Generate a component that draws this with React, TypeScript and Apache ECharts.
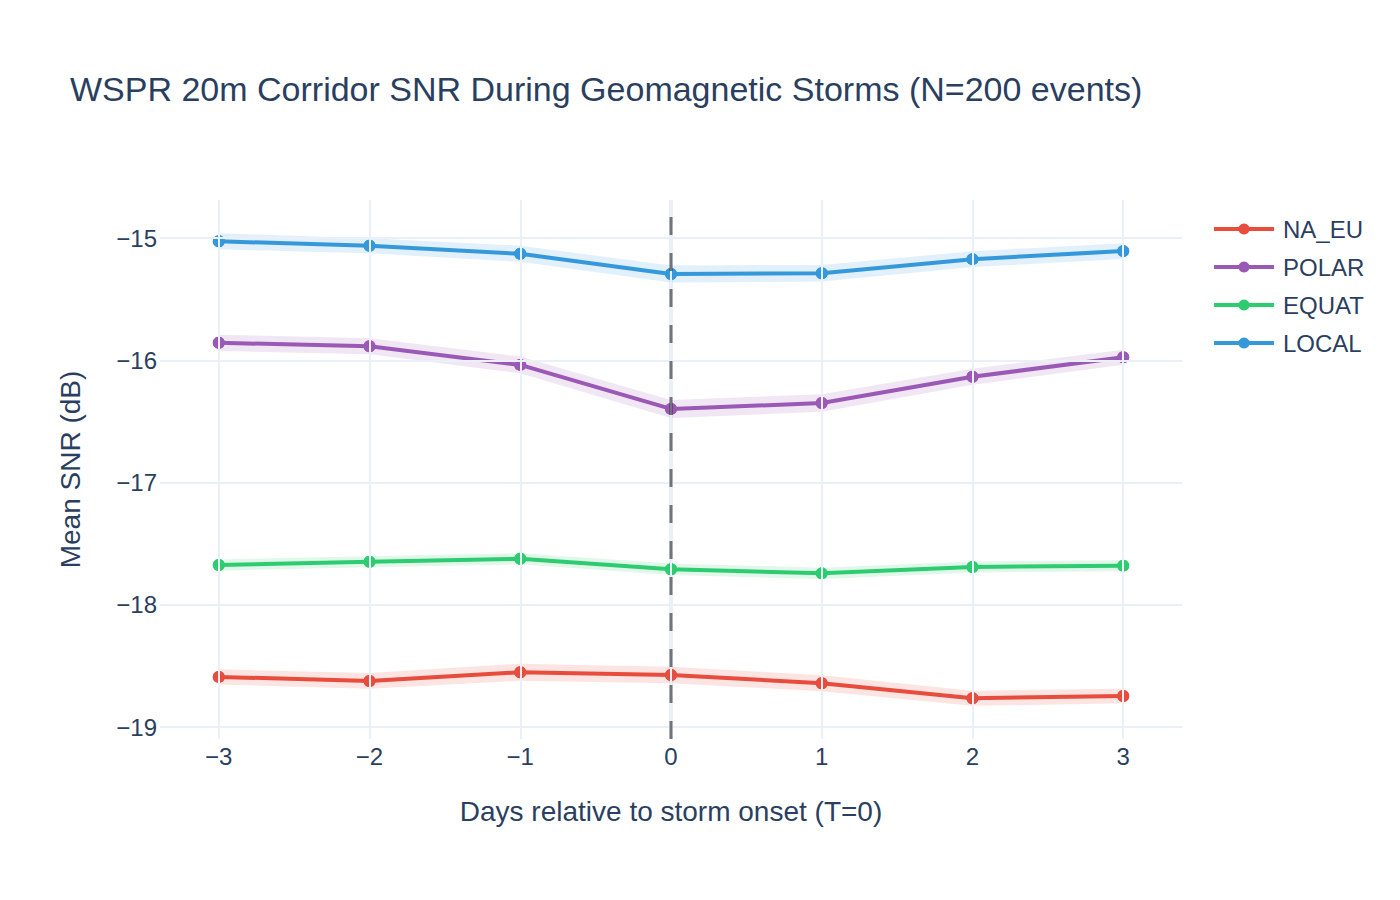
import { useEffect, useRef } from "react";
import * as echarts from "echarts";

// Days relative to storm onset
const days = [-3, -2, -1, 0, 1, 2, 3];

// Mean SNR (dB) per corridor
const naEu = [-18.59, -18.623, -18.552, -18.574, -18.642, -18.765, -18.746];
const polar = [-15.857, -15.885, -16.038, -16.398, -16.35, -16.135, -15.975];
const equat = [-17.675, -17.648, -17.623, -17.71, -17.743, -17.691, -17.68];
const local = [-15.027, -15.063, -15.129, -15.294, -15.288, -15.173, -15.107];

// Half-width of the confidence band (dB)
const naEuCi = [0.062, 0.064, 0.07, 0.068, 0.066, 0.062, 0.06];
const polarCi = [0.066, 0.065, 0.068, 0.074, 0.072, 0.066, 0.062];
const equatCi = [0.046, 0.045, 0.045, 0.047, 0.046, 0.045, 0.045];
const localCi = [0.065, 0.062, 0.066, 0.07, 0.068, 0.065, 0.064];

const corridorNames = ["NA_EU", "POLAR", "EQUAT", "LOCAL"];
const lineColors = ["#e74c3c", "#9b59b6", "#2ecc71", "#3498db"];
const bandColors = [
  "rgba(231,76,60,0.15)",
  "rgba(155,89,182,0.15)",
  "rgba(46,204,113,0.15)",
  "rgba(52,152,219,0.15)",
];

// Gridline positions and storm onset marker
const xTicks = [-3, -2, -1, 0, 1, 2, 3];
const yTicks = [-19, -18, -17, -16, -15];
const onsetDay = 0;

const xMin = -3.39;
const xMax = 3.39;
const yMin = -19.098;
const yMax = -14.689;

const FONT = '"Liberation Sans", Arial, Helvetica, sans-serif';
const TEXT = "#2a3f5f";
const GRID = "#ebf0f8";

const tickFormatter = (v: number) =>
  Math.abs(v - Math.round(v)) < 1e-6 ? String(Math.round(v)).replace("-", "\u2212") : "";

export default function App() {
  const ref = useRef<HTMLDivElement>(null);

  useEffect(() => {
    document.body.style.margin = "0";
    if (!ref.current) return;
    const chart = echarts.init(ref.current, undefined, { renderer: "svg" });

    const values = [naEu, polar, equat, local];
    const cis = [naEuCi, polarCi, equatCi, localCi];

    const series: any[] = [];

    // Grid lines and the x = 0 zero line
    series.push({
      name: "grid",
      type: "line",
      data: [
        [onsetDay, yMin],
        [onsetDay, yMax],
      ],
      symbol: "none",
      silent: true,
      z: 1,
      lineStyle: { color: GRID, width: 4 },
      markLine: {
        silent: true,
        symbol: "none",
        label: { show: false },
        emphasis: { disabled: true },
        lineStyle: { color: GRID, width: 2, type: "solid" },
        data: [
          ...xTicks.map((v) => ({ xAxis: v })),
          ...yTicks.map((v) => ({ yAxis: v })),
        ],
      },
    });

    // Confidence bands: polygon between upper and lower bound
    corridorNames.forEach((name, i) => {
      const upper = days.map((_, k) => values[i][k] + cis[i][k]);
      const lower = days.map((_, k) => values[i][k] - cis[i][k]);
      series.push({
        name: name + " band",
        type: "custom",
        silent: true,
        z: 2,
        data: days.map((d, k) => [d, upper[k], lower[k]]),
        encode: { x: 0, y: [1, 2] },
        renderItem: (params: any, api: any) => {
          if (params.dataIndex !== 0) return null;
          const pts: number[][] = [];
          days.forEach((d, k) => pts.push(api.coord([d, upper[k]])));
          for (let k = days.length - 1; k >= 0; k--) pts.push(api.coord([days[k], lower[k]]));
          return {
            type: "polygon",
            shape: { points: pts },
            style: { fill: bandColors[i], stroke: "none" },
          };
        },
      });
    });

    // Mean SNR lines
    corridorNames.forEach((name, i) => {
      series.push({
        name,
        type: "line",
        data: days.map((d, k) => [d, values[i][k]]),
        symbol: "circle",
        symbolSize: 12,
        lineStyle: { color: lineColors[i], width: 4 },
        itemStyle: { color: lineColors[i], borderWidth: 0 },
        emphasis: { disabled: true },
        z: 3,
      });
    });

    // Solid point markers on top of each line
    corridorNames.forEach((name, i) => {
      series.push({
        name: name + " points",
        type: "scatter",
        data: days.map((d, k) => [d, values[i][k]]),
        symbol: "circle",
        symbolSize: 12,
        itemStyle: { color: lineColors[i], opacity: 1, borderWidth: 0 },
        emphasis: { disabled: true },
        silent: true,
        z: 4,
      });
    });

    // Storm onset marker
    series.push({
      name: "onset",
      type: "line",
      data: [
        [onsetDay, yMin],
        [onsetDay, yMax],
      ],
      symbol: "none",
      silent: true,
      lineStyle: { color: "rgba(0,0,0,0.52)", width: 3, type: [18, 18] },
      z: 5,
    });

    chart.setOption({
      animation: false,
      backgroundColor: "#ffffff",
      textStyle: { fontFamily: FONT },
      title: {
        text: "WSPR 20m Corridor SNR During Geomagnetic Storms (N=200 events)",
        left: 70,
        top: 72,
        padding: 0,
        textStyle: { fontFamily: FONT, fontSize: 34, fontWeight: "normal", color: TEXT },
      },
      legend: {
        data: corridorNames,
        orient: "vertical",
        left: 1212,
        top: 217,
        itemWidth: 60,
        itemHeight: 14,
        itemGap: 14,
        padding: 0,
        lineStyle: { width: 4 },
        textStyle: { fontFamily: FONT, fontSize: 24, color: TEXT, lineHeight: 24, padding: [0, 0, 0, 4] },
      },
      grid: { left: 160, top: 200, width: 1022, height: 539, containLabel: false },
      xAxis: {
        type: "value",
        min: xMin,
        max: xMax,
        splitNumber: 6,
        axisLine: { show: false },
        axisTick: { show: false },
        splitLine: { show: false },
        axisLabel: { formatter: tickFormatter, fontFamily: FONT, fontSize: 24, color: TEXT, margin: 5 },
        name: "Days relative to storm onset (T=0)",
        nameLocation: "middle",
        nameGap: 58,
        nameTextStyle: { fontFamily: FONT, fontSize: 28, color: TEXT },
      },
      yAxis: {
        type: "value",
        min: yMin,
        max: yMax,
        splitNumber: 5,
        axisLine: { show: false },
        axisTick: { show: false },
        splitLine: { show: false },
        axisLabel: { formatter: tickFormatter, fontFamily: FONT, fontSize: 24, color: TEXT, margin: 3 },
        name: "Mean SNR (dB)",
        nameLocation: "middle",
        nameGap: 76,
        nameRotate: 90,
        nameTextStyle: { fontFamily: FONT, fontSize: 28, color: TEXT },
      },
      series,
    });

    return () => chart.dispose();
  }, []);

  return <div ref={ref} style={{ width: 1400, height: 900 }} />;
}
